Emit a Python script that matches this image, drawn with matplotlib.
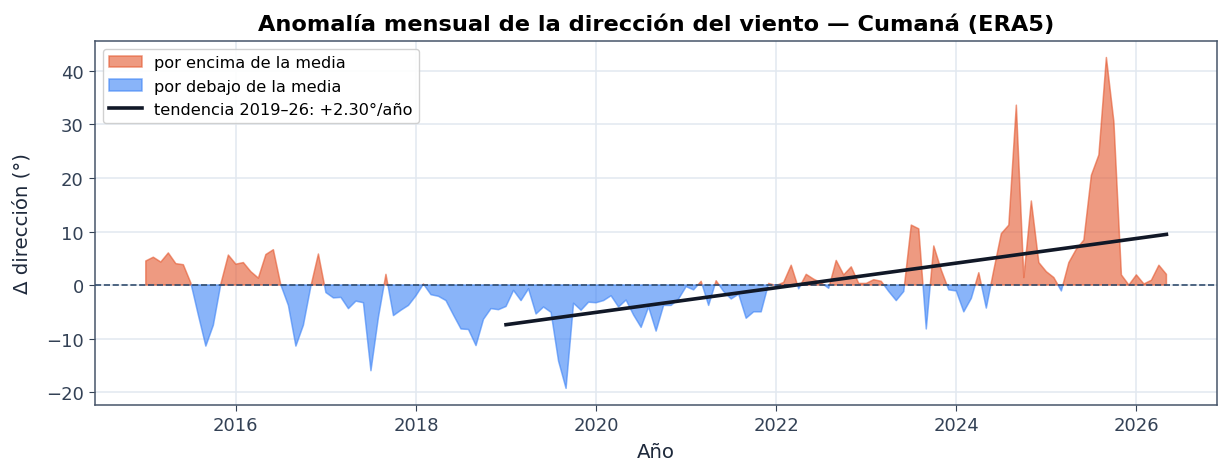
import numpy as np
import matplotlib
matplotlib.use("Agg")
import matplotlib.pyplot as plt

# Monthly anomalies (degrees), Jan 2015 .. May 2026
start_year = 2015
anom_2015 = [4.5, 5.2, 4.3, 6.0, 4.0, 3.8, 0.4, -5.6, -11.4, -7.5, 0.2, 5.6]
anom_2016 = [3.9, 4.2, 2.5, 1.3, 5.7, 6.6, 0.0, -3.8, -11.4, -7.5, -0.2, 5.8]
anom_2017 = [-1.4, -2.4, -2.3, -4.4, -3.0, -3.3, -16.0, -6.0, 2.0, -5.7, -4.7, -3.8]
anom_2018 = [-2.0, 0.2, -1.8, -2.1, -2.9, -5.6, -8.2, -8.3, -11.3, -6.4, -4.4, -4.6]
anom_2019 = [-4.0, -1.0, -2.9, -0.7, -5.4, -4.1, -5.1, -14.2, -19.3, -3.4, -4.7, -3.2]
anom_2020 = [-3.3, -2.9, -2.0, -4.1, -2.8, -5.6, -7.9, -4.1, -8.6, -3.8, -3.8, -2.6]
anom_2021 = [-0.3, -0.9, 0.7, -3.8, 0.8, -1.2, -2.6, -1.7, -6.2, -5.0, -5.0, 0.3]
anom_2022 = [-0.1, 0.5, 3.7, -0.7, 2.0, 1.1, 0.4, -0.6, 4.6, 1.9, 3.4, 0.3]
anom_2023 = [0.3, 1.0, 0.7, -1.2, -2.9, -1.2, 11.2, 10.5, -8.2, 7.3, 2.8, -0.9]
anom_2024 = [-1.1, -5.0, -2.5, 2.3, -4.3, 2.8, 9.6, 11.2, 33.6, 1.4, 15.7, 4.2]
anom_2025 = [2.5, 1.4, -1.1, 4.2, 6.7, 8.4, 20.5, 24.3, 42.5, 30.5, 1.9, 0.0]
anom_2026 = [1.9, 0.2, 0.9, 3.7, 2.0]

trend_start_year = 2019.0
trend_start_value = -7.4
trend_slope = 2.30  # deg / year

x_ticks = [2016, 2018, 2020, 2022, 2024, 2026]
y_ticks = [-20, -10, 0, 10, 20, 30, 40]

values = np.array(anom_2015 + anom_2016 + anom_2017 + anom_2018 + anom_2019 +
                  anom_2020 + anom_2021 + anom_2022 + anom_2023 + anom_2024 +
                  anom_2025 + anom_2026)
t = start_year + np.arange(len(values)) / 12.0

plt.rcParams['font.family'] = ['DejaVu Sans']

fig = plt.figure(figsize=(12.31, 4.77), dpi=100)
ax = fig.add_axes([0.077, 0.149, 0.912, 0.763])

red = '#e4572e'
blue = '#3b82f6'
ax.fill_between(t, values, 0, where=values >= 0, interpolate=True,
                facecolor=red, alpha=0.6, edgecolor=red, linewidth=1.1,
                label='por encima de la media', zorder=2)
ax.fill_between(t, values, 0, where=values <= 0, interpolate=True,
                facecolor=blue, alpha=0.6, edgecolor=blue, linewidth=1.1,
                label='por debajo de la media', zorder=2)

ax.axhline(0, color='#334e6e', linestyle='--', linewidth=1.2, zorder=3)

mask = t >= trend_start_year
tt = t[mask]
trend = trend_start_value + trend_slope * (tt - trend_start_year)
ax.plot([tt[0], tt[-1]], [trend[0], trend[-1]], color='#111827', linewidth=2.6,
        label='tendencia 2019–26: +2.30°/año', zorder=4)

ax.set_xticks(x_ticks)
ax.set_yticks(y_ticks)
ax.grid(True, color='#e2e8f0', linewidth=1.1, zorder=0)
ax.set_axisbelow(True)

for s in ax.spines.values():
    s.set_color('#475569')
    s.set_linewidth(1.1)
ax.tick_params(colors='#334155', labelsize=13, length=4.5)
for lab in ax.get_xticklabels() + ax.get_yticklabels():
    lab.set_color('#334155')

ax.set_xlabel('Año', fontsize=14.2, color='#1e293b', labelpad=6)
ax.set_ylabel('Δ dirección (°)', fontsize=14.2, color='#1e293b', labelpad=10)
ax.set_title('Anomalía mensual de la dirección del viento — Cumaná (ERA5)',
             fontsize=16.2, fontweight='bold', color='#000000', pad=8)

leg = ax.legend(loc='upper left', fontsize=11.6, frameon=True, framealpha=0.9,
                edgecolor='#cccccc', handlelength=2.0, labelspacing=0.5,
                borderaxespad=0.5)

fig.savefig('out.png', dpi=100)
